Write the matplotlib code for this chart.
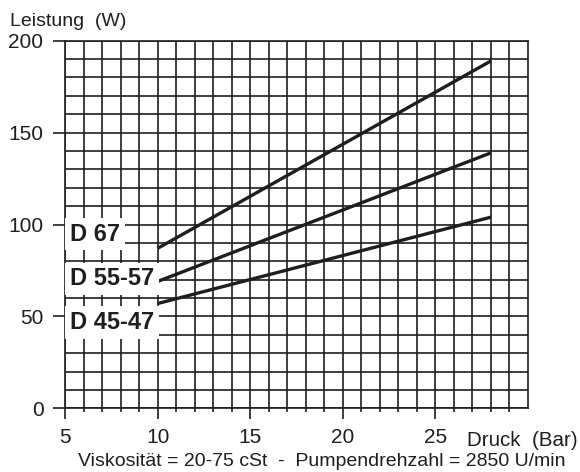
import numpy as np
import matplotlib.pyplot as plt
from matplotlib.ticker import MultipleLocator, FixedLocator

# values
druck = [10, 28]
d67 = [87, 189]
d55_57 = [69, 139]
d45_47 = [57, 104]
series_names = ["D 67", "D 55-57", "D 45-47"]
label_y = [94.8, 70.4, 46.7]
x_ticks = [5, 10, 15, 20, 25]
y_ticks = [0, 50, 100, 150, 200]

plt.rcParams['font.family'] = ['Liberation Sans', 'DejaVu Sans']
ink = '#1e1e1e'

fig = plt.figure(figsize=(5.8, 4.72), dpi=100)
ax = fig.add_axes([65 / 580, 1 - 408.3 / 472, 463 / 580, 367.6 / 472])

ax.set_xlim(5, 30)
ax.set_ylim(0, 200)
ax.xaxis.set_major_locator(FixedLocator(x_ticks))
ax.xaxis.set_minor_locator(FixedLocator([v for v in range(6, 30) if v not in x_ticks]))
ax.yaxis.set_major_locator(FixedLocator(y_ticks))
ax.yaxis.set_minor_locator(MultipleLocator(10))

ax.grid(which='both', color=ink, linewidth=1.2)
for s in ax.spines.values():
    s.set_color(ink)
    s.set_linewidth(1.2)

ax.tick_params(axis='x', which='major', length=8, width=1.2, color=ink,
               labelsize=15, pad=6, labelcolor=ink)
ax.tick_params(axis='x', which='minor', length=3, width=1.2, color=ink)
ax.tick_params(axis='y', which='major', length=9, width=1.2, color=ink,
               labelsize=15, pad=6.5, labelcolor=ink)
ax.tick_params(axis='y', which='minor', length=0)

for ys in (d67, d55_57, d45_47):
    ax.plot(druck, ys, color=ink, linewidth=2.4, solid_capstyle='butt', zorder=3)

for name, yv in zip(series_names, label_y):
    ax.text(5.27, yv, name, fontsize=17, fontweight='bold', color=ink,
            va='center', ha='left', zorder=4,
            bbox=dict(boxstyle='square,pad=0.2', facecolor='white', edgecolor='none'))

fig.text(10 / 580, 1 - 26 / 472, "Leistung  (W)", fontsize=14, color=ink, va='baseline')
fig.text(467 / 580, 1 - 446 / 472, "Druck  (Bar)", fontsize=14.8, color=ink, va='baseline')
fig.text(322 / 580, 1 - 466 / 472, "Viskosität = 20-75 cSt  -  Pumpendrehzahl = 2850 U/min",
         fontsize=14, color=ink, va='baseline', ha='center')

fig.savefig('out.png', dpi=100)
